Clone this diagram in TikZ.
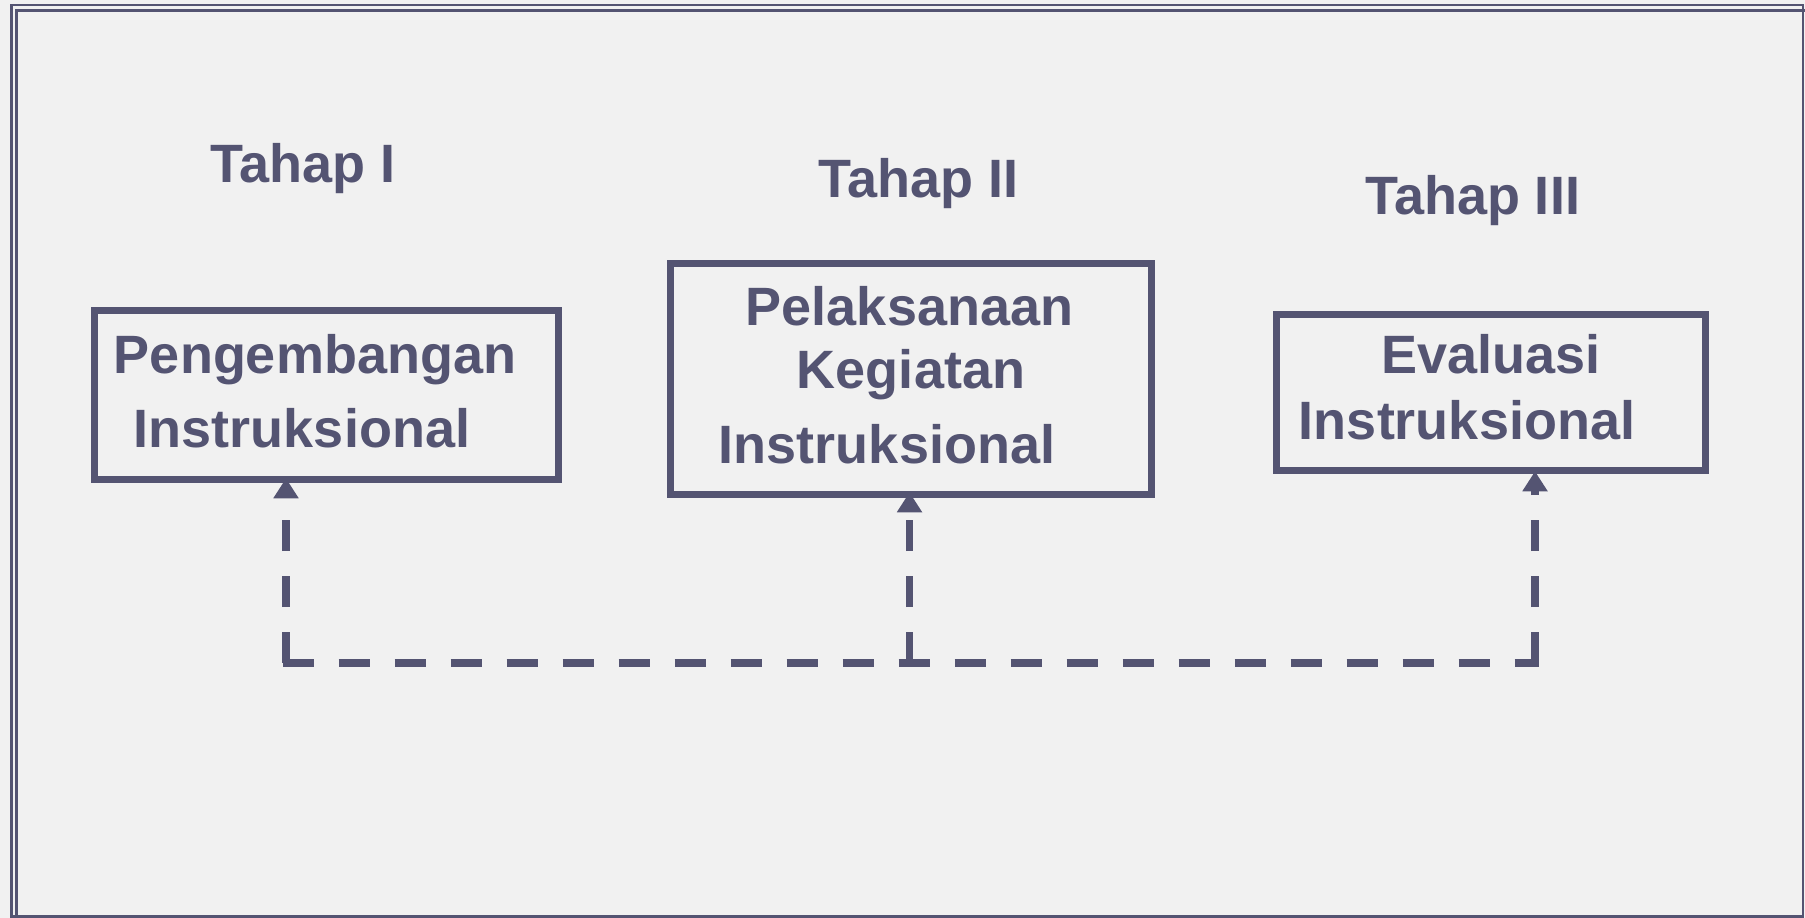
\documentclass[tikz,border=0pt]{standalone}
\usepackage{fontspec}
\setmainfont{Liberation Sans}
\usetikzlibrary{arrows.meta}
\definecolor{ink}{RGB}{84,84,114}
\definecolor{paper}{RGB}{241,241,241}
\tikzset{
  stagebox/.style={draw=ink, line width=7.5pt, rectangle, inner sep=0pt},
  label/.style={anchor=base, inner sep=0pt, text=ink, font=\fontsize{54}{60}\selectfont\bfseries},
  dashv/.style={draw=ink, line width=7.5pt, dash pattern=on 31pt off 25pt},
  dashh/.style={draw=ink, line width=7.5pt, dash pattern=on 31pt off 25pt},
  tip/.style={-{Triangle[length=20pt,width=24pt]}},
  frame/.style={draw=ink, line width=2.5pt}
}
\begin{document}
\begin{tikzpicture}[x=1pt,y=-1pt]
\useasboundingbox (0,0) rectangle (1805,918);
\clip (0,0) rectangle (1805,918);
\fill[paper] (0,0) rectangle (1805,918);
\draw[frame] (11.5,5) rectangle (1803,916.5);
\draw[frame] (16.5,10.5) rectangle (1812,928);

% titles
\node[label] (t1) at (303,182) {Tahap I};
\node[label] (t2) at (918.5,197) {Tahap II};
\node[label] (t3) at (1472.5,214) {Tahap III};

% boxes
\node[stagebox, minimum width=464pt, minimum height=169pt] (b1) at (326.5,395) {};
\node[stagebox, minimum width=481pt, minimum height=231pt] (b2) at (911,379) {};
\node[stagebox, minimum width=429pt, minimum height=156pt] (b3) at (1491,392.5) {};

% box texts
\node[label] (b1a) at (315,373) {Pengembangan};
\node[label] (b1b) at (302,447) {Instruksional};
\node[label] (b2a) at (909.5,325) {Pelaksanaan};
\node[label] (b2b) at (911,388) {Kegiatan};
\node[label] (b2c) at (887,463) {Instruksional};
\node[label] (b3a) at (1491,373) {Evaluasi};
\node[label] (b3b) at (1467,439) {Instruksional};

% connectors
\coordinate (jl) at (286,663);
\coordinate (jm) at (909.5,663);
\coordinate (jr) at (1535,663);
\coordinate (hl) at (282.5,663);
\coordinate (hr) at (1538.5,663);
\draw[dashh] (hl) -- (hr);
\draw[dashv, tip, shorten >=-5pt] (jl) -- (jl |- b1.south);
\draw[dashv, tip, shorten >=-6pt] (jm) -- (jm |- b2.south);
\draw[dashv, tip, shorten >=-3pt] (jr) -- (jr |- b3.south);
\end{tikzpicture}
\end{document}
